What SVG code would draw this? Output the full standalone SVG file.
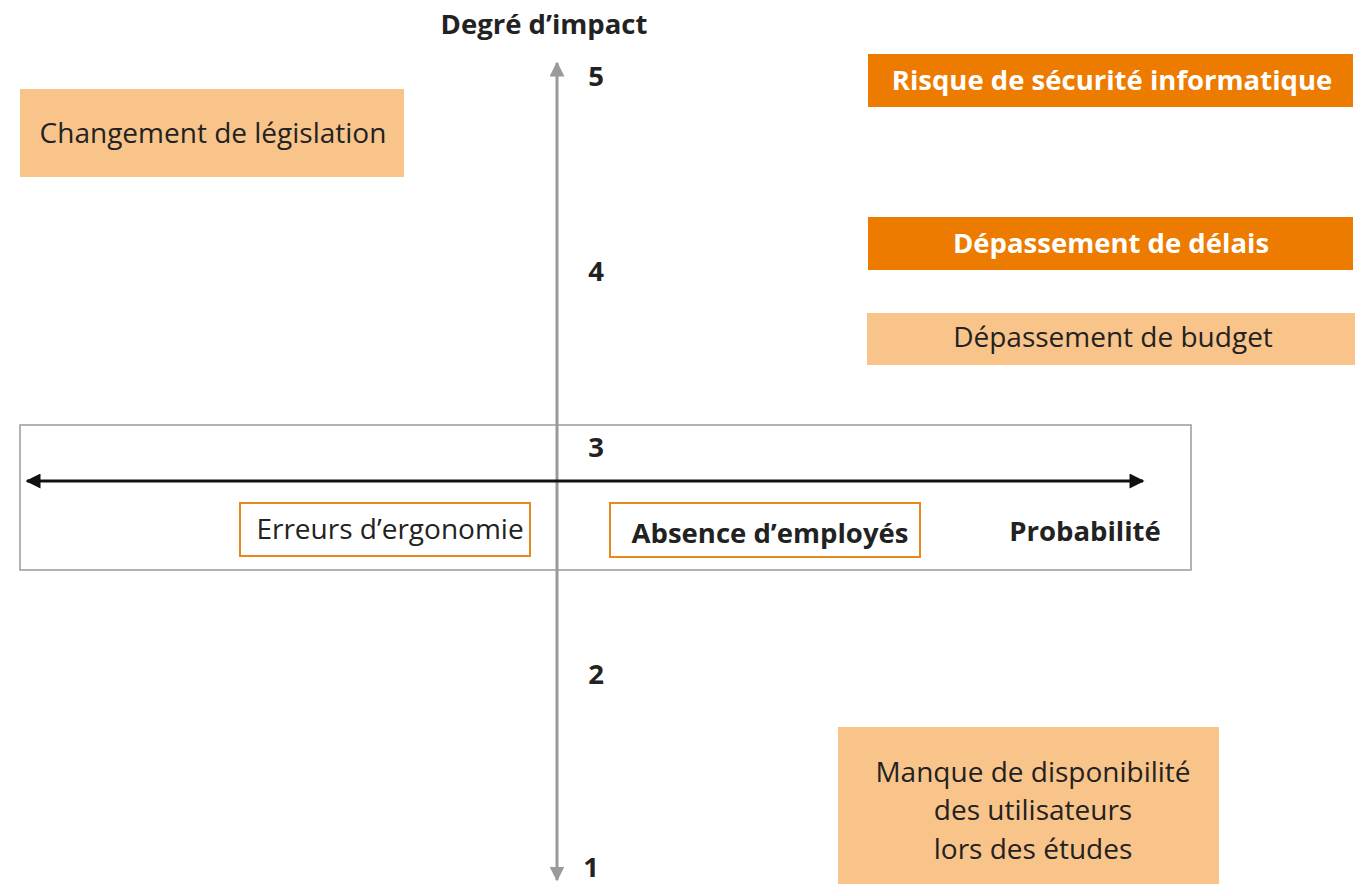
<svg xmlns="http://www.w3.org/2000/svg" width="1371" height="886" viewBox="0 0 1371 886">
<style>
  .t { font-family: "Open Sans", "Noto Sans", "Liberation Sans", sans-serif; font-size: 28px; fill: #222; }
  .b { font-weight: bold; font-size: 27.5px; }
  .w { fill: #ffffff; }
  .dark { fill: #EC7B00; }
  .light { fill: #F9C48A; }
  .outl { fill: #ffffff; stroke: #E8891E; stroke-width: 2; }
  .frame { fill: none; stroke: #9a9a9a; stroke-width: 1.5; }
</style>
<defs>
  <marker id="ag" viewBox="0 0 10 10" refX="9" refY="5" markerWidth="5" markerHeight="5" orient="auto-start-reverse" markerUnits="strokeWidth">
    <path d="M0,0 L10,5 L0,10 z" fill="#9a9a9a"/>
  </marker>
  <marker id="ab" viewBox="0 0 10 10" refX="9" refY="5" markerWidth="6" markerHeight="5" orient="auto-start-reverse" markerUnits="strokeWidth">
    <path d="M0,0 L10,5 L0,10 z" fill="#111"/>
  </marker>
</defs>
<rect width="1371" height="886" fill="#ffffff"/>

<rect id="frame" class="frame" x="20" y="425" width="1171" height="145"/>

<g id="connectors">
  <line x1="557" y1="880" x2="557" y2="63" stroke="#9a9a9a" stroke-width="3" marker-start="url(#ag)" marker-end="url(#ag)"/>
  <line x1="27" y1="481" x2="1143" y2="481" stroke="#111" stroke-width="3" marker-start="url(#ab)" marker-end="url(#ab)"/>
</g>

<g id="axis-labels">
  <text class="t b" x="544" y="34" text-anchor="middle">Degré d’impact</text>
  <text class="t b" x="1085" y="541" text-anchor="middle">Probabilité</text>
  <text class="t b" x="596" y="86" text-anchor="middle">5</text>
  <text class="t b" x="596" y="281" text-anchor="middle">4</text>
  <text class="t b" x="596" y="457" text-anchor="middle">3</text>
  <text class="t b" x="596" y="684" text-anchor="middle">2</text>
  <text class="t b" x="591" y="877" text-anchor="middle">1</text>
</g>

<g id="n-legislation">
  <rect class="light" x="20" y="89" width="384" height="88"/>
  <text class="t" x="213" y="143" text-anchor="middle">Changement de législation</text>
</g>

<g id="n-securite">
  <rect class="dark" x="868" y="54" width="485" height="53"/>
  <text class="t b w" x="1112" y="90" text-anchor="middle">Risque de sécurité informatique</text>
</g>

<g id="n-delais">
  <rect class="dark" x="868" y="217" width="485" height="53"/>
  <text class="t b w" x="1111" y="253" text-anchor="middle">Dépassement de délais</text>
</g>

<g id="n-budget">
  <rect class="light" x="867" y="313" width="488" height="52"/>
  <text class="t" x="1113" y="347" text-anchor="middle">Dépassement de budget</text>
</g>

<g id="n-ergonomie">
  <rect class="outl" x="240" y="503" width="290" height="53"/>
  <text class="t" x="390" y="539" text-anchor="middle">Erreurs d’ergonomie</text>
</g>

<g id="n-absence">
  <rect class="outl" x="610" y="503" width="310" height="54"/>
  <text class="t b" x="770" y="543" text-anchor="middle">Absence d’employés</text>
</g>

<g id="n-disponibilite">
  <rect class="light" x="838" y="727" width="381" height="157"/>
  <text class="t" x="1033" y="782" text-anchor="middle">Manque de disponibilité</text>
  <text class="t" x="1033" y="820" text-anchor="middle">des utilisateurs</text>
  <text class="t" x="1033" y="859" text-anchor="middle">lors des études</text>
</g>
</svg>
